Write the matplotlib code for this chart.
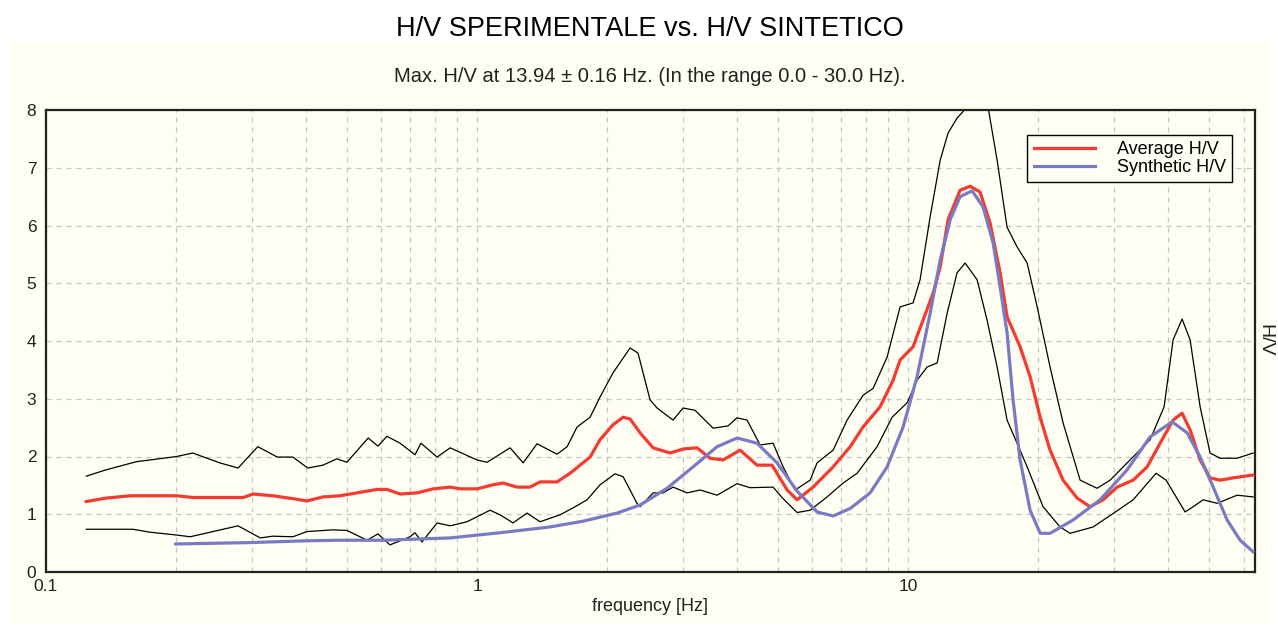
import matplotlib
matplotlib.use("Agg")
import matplotlib.pyplot as plt
from matplotlib.patches import Rectangle
from matplotlib.ticker import FixedLocator, NullFormatter, FixedFormatter

plt.rcParams['font.family'] = ['Liberation Sans', 'DejaVu Sans']

# ---------------- data ----------------
avg_f = [0.124, 0.138, 0.157, 0.201, 0.219, 0.287, 0.302, 0.336, 0.374, 0.403,
         0.439, 0.481, 0.508, 0.586, 0.618, 0.663, 0.726, 0.791, 0.866, 0.913,
         1.0, 1.089, 1.149, 1.238, 1.327, 1.40, 1.533, 1.644, 1.829, 1.929,
         2.068, 2.182, 2.265, 2.389, 2.561, 2.804, 3.006, 3.239, 3.472, 3.722,
         4.076, 4.464, 4.836, 5.241, 5.528, 6.02, 6.70, 7.34, 7.86, 8.61,
         9.23, 9.58, 10.27, 10.83, 11.43, 11.87, 12.38, 13.20, 13.93, 14.69,
         15.50, 16.35, 16.97, 18.19, 19.19, 20.25, 21.35, 22.89, 24.67, 26.44,
         28.34, 30.54, 33.27, 35.85, 38.43, 41.19, 43.22, 45.11, 47.59, 50.19,
         52.94, 56.77, 63.15]
avg_v = [1.22, 1.28, 1.32, 1.32, 1.29, 1.29, 1.35, 1.32, 1.27, 1.23,
         1.30, 1.32, 1.35, 1.43, 1.43, 1.35, 1.37, 1.44, 1.47, 1.44,
         1.44, 1.51, 1.54, 1.47, 1.47, 1.56, 1.56, 1.71, 1.99, 2.29,
         2.55, 2.68, 2.65, 2.41, 2.15, 2.06, 2.13, 2.15, 1.97, 1.94,
         2.11, 1.85, 1.85, 1.42, 1.25, 1.47, 1.82, 2.17, 2.51, 2.86,
         3.32, 3.67, 3.90, 4.36, 4.83, 5.28, 6.10, 6.61, 6.68, 6.58,
         6.04, 5.18, 4.42, 3.90, 3.38, 2.68, 2.11, 1.59, 1.28, 1.13,
         1.25, 1.47, 1.59, 1.82, 2.23, 2.63, 2.75, 2.46, 1.94, 1.63,
         1.59, 1.63, 1.68]

syn_f = [0.2, 0.3, 0.40, 0.48, 0.605, 0.866, 1.131, 1.477, 1.762, 2.113,
         2.389, 2.759, 3.171, 3.605, 4.011, 4.464, 4.966, 5.528, 6.150, 6.70,
         7.34, 8.164, 8.940, 9.736, 10.49, 11.25, 11.87, 12.52, 13.20, 14.08,
         14.93, 15.75, 16.35, 16.97, 17.52, 18.19, 19.19, 20.25, 21.35, 24.14,
         27.89, 32.23, 36.43, 40.98, 44.4, 47.59, 51.03, 54.97, 58.93, 63.15]
syn_v = [0.485, 0.51, 0.54, 0.55, 0.55, 0.59, 0.68, 0.78, 0.88, 1.02,
         1.16, 1.45, 1.82, 2.17, 2.32, 2.23, 1.89, 1.40, 1.04, 0.97,
         1.10, 1.37, 1.82, 2.51, 3.38, 4.48, 5.40, 6.10, 6.50, 6.60,
         6.32, 5.70, 4.94, 4.14, 2.98, 1.94, 1.07, 0.67, 0.67, 0.90,
         1.25, 1.77, 2.34, 2.60, 2.41, 1.99, 1.47, 0.90, 0.55, 0.35]

up_f = [0.124, 0.138, 0.162, 0.201, 0.219, 0.253, 0.279, 0.310, 0.344, 0.374,
        0.405, 0.439, 0.473, 0.499, 0.559, 0.589, 0.618, 0.663, 0.718, 0.741,
        0.808, 0.866, 1.0, 1.055, 1.193, 1.279, 1.378, 1.533, 1.618, 1.706,
        1.829, 1.929, 2.068, 2.265, 2.363, 2.520, 2.616, 2.850, 3.006, 3.204,
        3.529, 3.823, 4.011, 4.231, 4.536, 4.862, 5.129, 5.469, 5.926, 6.150,
        6.70, 7.219, 7.863, 8.296, 8.94, 9.581, 10.27, 10.66, 11.25, 11.87,
        12.38, 12.99, 13.71, 14.5, 15.33, 16.09, 16.97, 17.90, 18.89, 19.93,
        21.35, 22.89, 25.07, 27.44, 29.42, 32.23, 36.43, 39.26, 41.19, 43.22,
        45.11, 47.59, 50.19, 52.94, 57.99, 63.15]
up_v = [1.66, 1.77, 1.91, 2.00, 2.06, 1.89, 1.80, 2.17, 1.99, 1.99,
        1.80, 1.85, 1.96, 1.90, 2.32, 2.18, 2.35, 2.23, 2.03, 2.23,
        1.99, 2.15, 1.94, 1.90, 2.15, 1.89, 2.22, 2.04, 2.17, 2.51,
        2.68, 3.03, 3.45, 3.88, 3.79, 2.98, 2.84, 2.63, 2.84, 2.80,
        2.49, 2.53, 2.67, 2.63, 2.20, 2.23, 1.82, 1.42, 1.59, 1.89,
        2.11, 2.63, 3.06, 3.18, 3.72, 4.59, 4.66, 5.06, 6.15, 7.13,
        7.60, 7.86, 8.05, 8.30, 8.05, 7.13, 5.97, 5.63, 5.35, 4.59,
        3.55, 2.58, 1.59, 1.45, 1.59, 1.89, 2.29, 2.86, 4.02, 4.38,
        4.02, 2.86, 2.06, 1.97, 1.97, 2.06]

lo_f = [0.124, 0.159, 0.174, 0.201, 0.216, 0.244, 0.279, 0.314, 0.336, 0.374,
        0.403, 0.463, 0.499, 0.556, 0.589, 0.628, 0.699, 0.718, 0.745, 0.808,
        0.866, 0.948, 1.072, 1.131, 1.212, 1.306, 1.40, 1.558, 1.670, 1.800,
        1.929, 2.090, 2.182, 2.350, 2.389, 2.561, 2.701, 2.850, 3.071, 3.292,
        3.605, 4.011, 4.299, 4.862, 5.129, 5.528, 5.926, 6.487, 7.068, 7.616,
        8.474, 9.182, 9.947, 10.49, 11.07, 11.68, 12.32, 12.99, 13.56, 14.46,
        15.25, 16.09, 16.97, 17.90, 18.89, 20.57, 22.52, 23.76, 26.87, 30.0,
        33.27, 37.62, 39.68, 43.92, 45.85, 48.36, 52.12, 57.99, 63.15]
lo_v = [0.74, 0.74, 0.69, 0.64, 0.61, 0.70, 0.80, 0.59, 0.62, 0.61,
        0.70, 0.73, 0.72, 0.55, 0.66, 0.47, 0.61, 0.68, 0.52, 0.85,
        0.80, 0.87, 1.07, 0.99, 0.85, 1.02, 0.87, 0.99, 1.11, 1.25,
        1.51, 1.70, 1.65, 1.19, 1.13, 1.37, 1.37, 1.47, 1.37, 1.42,
        1.33, 1.53, 1.46, 1.47, 1.27, 1.03, 1.07, 1.30, 1.54, 1.71,
        2.17, 2.68, 2.93, 3.32, 3.55, 3.62, 4.48, 5.18, 5.35, 5.06,
        4.36, 3.55, 2.63, 2.23, 1.82, 1.13, 0.78, 0.67, 0.78, 1.02,
        1.25, 1.71, 1.59, 1.04, 1.13, 1.25, 1.19, 1.33, 1.30]

x_major = [0.1, 1, 10]
x_major_labels = ['0.1', '1', '10']
x_minor = [0.2, 0.3, 0.4, 0.5, 0.6, 0.7, 0.8, 0.9,
           2, 3, 4, 5, 6, 7, 8, 9, 20, 30, 40, 50, 60]
y_ticks = [0, 1, 2, 3, 4, 5, 6, 7, 8]

title = 'H/V SPERIMENTALE vs. H/V SINTETICO'
subtitle = 'Max. H/V at 13.94 \u00b1 0.16 Hz. (In the range 0.0 - 30.0 Hz).'

# ---------------- figure ----------------
W, H = 1278, 630
fig = plt.figure(figsize=(W / 100, H / 100), dpi=100, facecolor='white')
cream = '#FEFEF3'
fig.patches.append(Rectangle((8 / W, 1 - 624 / H), (1270 - 8) / W, (624 - 43) / H,
                             transform=fig.transFigure, facecolor=cream,
                             edgecolor='none', zorder=-10))

ax = fig.add_axes([46 / W, 1 - 572 / H, (1255 - 46) / W, (572 - 110) / H])
ax.set_facecolor(cream)
ax.set_xscale('log')
ax.set_xlim(0.1, 63.8)
ax.set_ylim(0, 8)

grid_kw = dict(color='#c4c4c4', linestyle=(0, (4, 4)), linewidth=0.9)
ax.xaxis.set_major_locator(FixedLocator(x_major))
ax.xaxis.set_major_formatter(FixedFormatter(x_major_labels))
ax.xaxis.set_minor_locator(FixedLocator(x_minor))
ax.xaxis.set_minor_formatter(NullFormatter())
ax.set_yticks(y_ticks)
ax.grid(True, which='both', axis='x', **grid_kw)
ax.grid(True, which='major', axis='y', **grid_kw)
ax.set_axisbelow(True)
ax.tick_params(axis='both', which='both', length=0, labelsize=12.5, colors='#222222')
ax.tick_params(axis='x', pad=5)
ax.tick_params(axis='y', pad=7)
for s in ax.spines.values():
    s.set_linewidth(1.6)
    s.set_color('#222222')

ax.plot(up_f, up_v, color='black', lw=0.9, zorder=3)
ax.plot(lo_f, lo_v, color='black', lw=0.9, zorder=3)
ax.plot(avg_f, avg_v, color='#F53A30', lw=2.3, zorder=4, label='Average H/V')
ax.plot(syn_f, syn_v, color='#7A7AC2', lw=2.3, zorder=5, label='Synthetic H/V')

leg = ax.legend(loc='upper right', bbox_to_anchor=(0.981, 0.946), borderaxespad=0,
                fontsize=13, handlelength=3.4, fancybox=False, framealpha=1,
                facecolor=cream, edgecolor='black', borderpad=0.35,
                labelspacing=0.05, handletextpad=1.2)
leg.get_frame().set_linewidth(1.0)

ax.set_xlabel('frequency [Hz]', fontsize=13, labelpad=3, color='#222222')
fig.text(1256 / W, 1 - 340 / H, 'H/V', rotation=270, ha='left', va='center',
         fontsize=14, color='#222222')

fig.text(650 / W, 1 - 29 / H, title, ha='center', va='center', fontsize=19.5)
fig.text(650 / W, 1 - 77 / H, subtitle, ha='center', va='center', fontsize=14.5,
         color='#222222')

fig.savefig('out.png', dpi=100, facecolor='white')
